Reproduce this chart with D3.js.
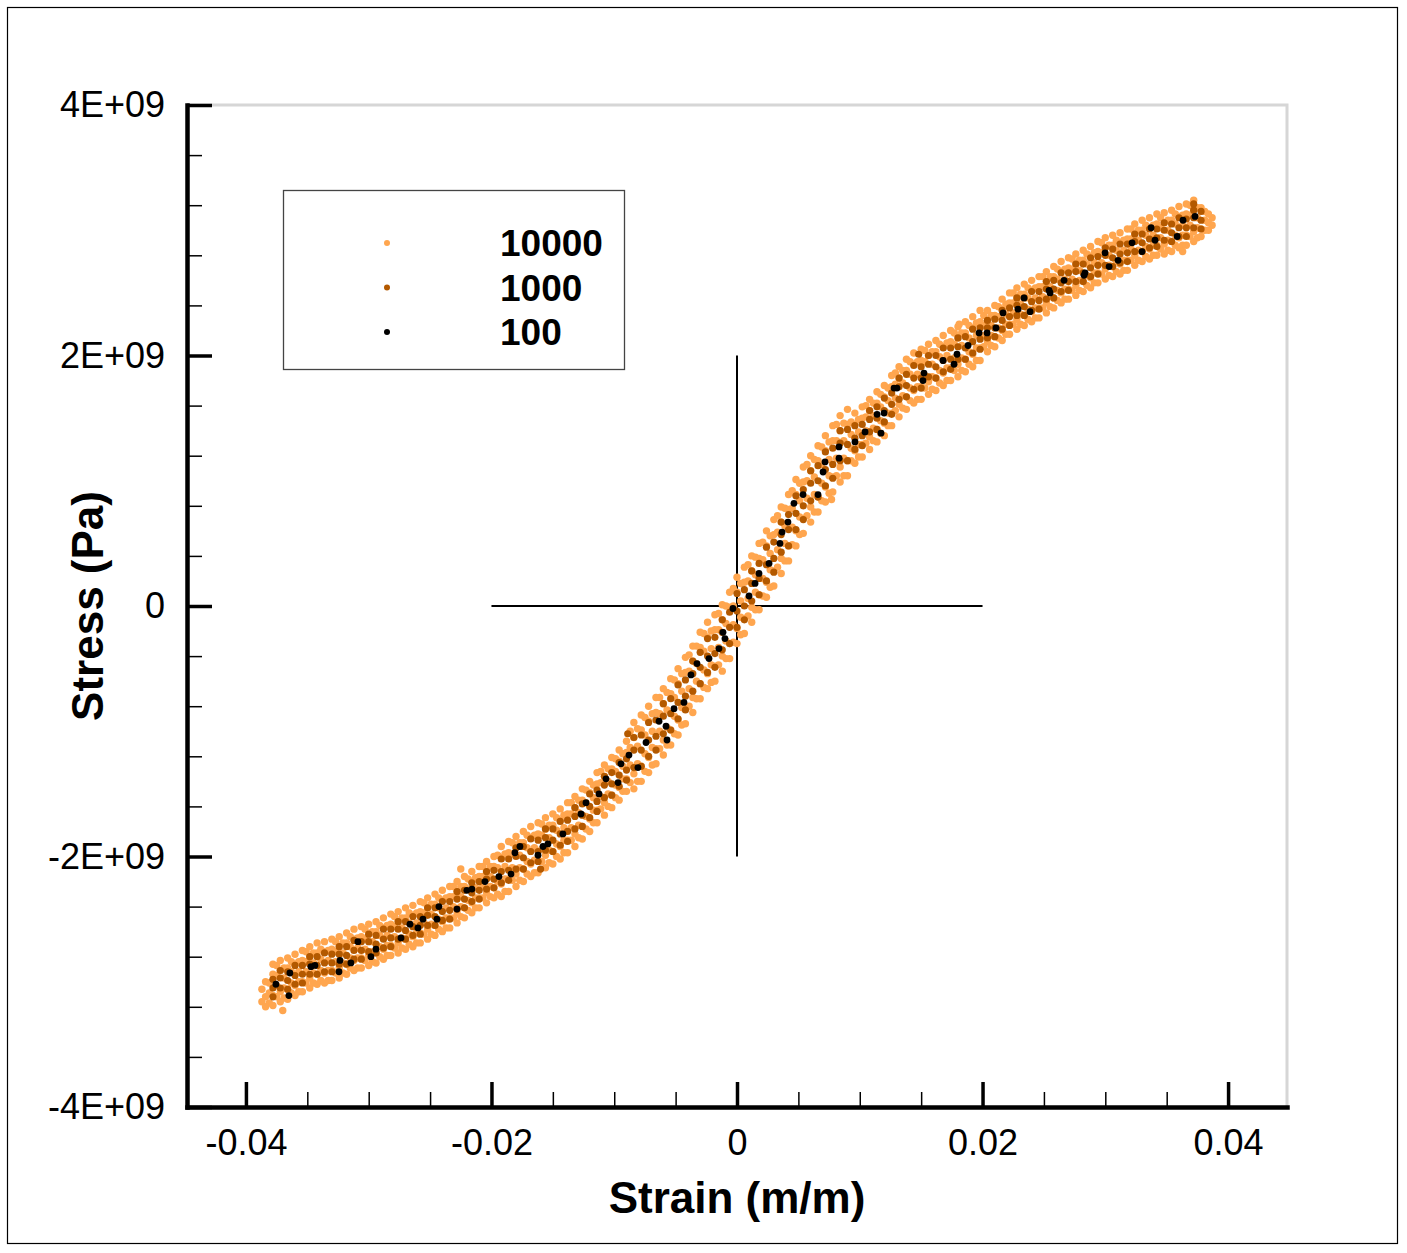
<!DOCTYPE html>
<html>
<head>
<meta charset="utf-8">
<script src="https://cdn.jsdelivr.net/npm/d3@7"></script>
<style>
body { margin: 0; background: #fff; }
text { font-family: "Liberation Sans", Arial, Helvetica, sans-serif; }
</style>
</head>
<body>
<div id="chart"></div>
<script>
// stress values in the series below are in units of 1e9 Pa
var GPA = 1e9;

var seriesNames = ["10000", "1000", "100"];
var seriesColors = ["#ffa64f", "#b35900", "#000000"];

var xTicks = [-0.04, -0.02, 0, 0.02, 0.04];
var xTickLabels = ["-0.04", "-0.02", "0", "0.02", "0.04"];
var yTicks = [-4, -2, 0, 2, 4];
var yTickLabels = ["-4E+09", "-2E+09", "0", "2E+09", "4E+09"];

// the two reference lines through the origin
var crossH = [[-0.02, 0], [0.02, 0]];
var crossV = [[0, -2], [0, 2]];

// 100 sample run: [strain, stress]
var points100 = [
  [-0.03756,-3.02],[-0.03650,-3.11],[-0.03642,-2.93],[-0.03470,-2.88],[-0.03438,-2.87],[-0.03242,-2.92],
  [-0.03234,-2.83],[-0.03145,-2.85],[-0.03088,-2.68],[-0.02982,-2.80],[-0.02941,-2.74],[-0.02737,-2.65],
  [-0.02664,-2.54],[-0.02599,-2.57],[-0.02558,-2.50],[-0.02444,-2.50],[-0.02428,-2.40],[-0.02281,-2.42],
  [-0.02200,-2.27],[-0.02159,-2.26],[-0.02053,-2.20],[-0.01939,-2.16],[-0.01841,-2.14],[-0.01809,-1.97],
  [-0.01768,-1.92],[-0.01621,-1.99],[-0.01580,-1.92],[-0.01540,-1.90],[-0.01418,-1.82],[-0.01271,-1.66],
  [-0.01230,-1.57],[-0.01124,-1.50],[-0.01067,-1.38],[-0.00969,-1.41],[-0.00945,-1.26],[-0.00880,-1.19],
  [-0.00807,-1.29],[-0.00741,-1.09],[-0.00635,-0.92],[-0.00578,-0.96],[-0.00570,-1.07],[-0.00513,-0.82],
  [-0.00432,-0.77],[-0.00375,-0.55],[-0.00326,-0.46],[-0.00228,-0.42],[-0.00147,-0.34],[-0.00114,-0.21],
  [-0.00098,-0.26],[-0.00033,-0.02],[0.00098,0.08],[0.00147,0.18],[0.00179,0.26],[0.00261,0.34],
  [0.00350,0.50],[0.00367,0.59],[0.00415,0.67],[0.00464,0.82],[0.00538,0.89],[0.00660,0.89],
  [0.00701,1.07],[0.00717,1.15],[0.00831,1.18],[0.00831,1.27],[0.00961,1.31],[0.01043,1.39],
  [0.01141,1.53],[0.01173,1.38],[0.01198,1.54],[0.01279,1.74],[0.01303,1.74],[0.01515,1.80],
  [0.01523,1.86],[0.01678,1.96],[0.01768,1.93],[0.01792,2.01],[0.01882,2.08],[0.01972,2.18],
  [0.02037,2.18],[0.02110,2.22],[0.02167,2.34],[0.02289,2.37],[0.02338,2.46],[0.02387,2.35],
  [0.02542,2.52],[0.02550,2.50],[0.02664,2.60],[0.02827,2.64],[0.02835,2.66],[0.02998,2.82],
  [0.03031,2.71],[0.03104,2.76],[0.03218,2.90],[0.03299,2.83],[0.03373,3.02],[0.03405,2.92],
  [0.03585,2.95],[0.03633,3.08],[0.03731,3.11]
];

// 1000 sample run: [strain, stress, stress, ...] (several readings per strain)
var cols1000 = [
  [-.0378,-3.12,-3.05,-2.98],[-.0372,-3.05,-2.97,-2.91],[-.0366,-3.06,-2.99,-2.92],[-.0360,-3.02,-2.95,-2.87],
  [-.0354,-3.01,-2.94,-2.87],[-.0348,-2.94,-2.86,-2.80],[-.0342,-2.94,-2.87,-2.80],[-.0336,-2.92,-2.85,-2.77],
  [-.0330,-2.92,-2.85,-2.78],[-.0324,-2.86,-2.78,-2.72],[-.0318,-2.86,-2.79,-2.72],[-.0312,-2.82,-2.75,-2.67],
  [-.0306,-2.82,-2.75,-2.68],[-.0300,-2.76,-2.68,-2.62],[-.0294,-2.77,-2.70,-2.63],[-.0288,-2.73,-2.66,-2.58],
  [-.0282,-2.72,-2.65,-2.58],[-.0276,-2.66,-2.58,-2.52],[-.0270,-2.66,-2.59,-2.52],[-.0264,-2.63,-2.56,-2.48],
  [-.0258,-2.62,-2.55,-2.48],[-.0252,-2.55,-2.47,-2.41],[-.0246,-2.55,-2.48,-2.41],[-.0240,-2.51,-2.44,-2.36],
  [-.0234,-2.50,-2.43,-2.36],[-.0228,-2.42,-2.34,-2.28],[-.0222,-2.41,-2.34,-2.27],[-.0216,-2.36,-2.29,-2.21],
  [-.0210,-2.34,-2.27,-2.20],[-.0204,-2.26,-2.18,-2.12],[-.0198,-2.25,-2.18,-2.11],[-.0192,-2.21,-2.12,-2.02],
  [-.0186,-2.19,-2.11,-2.02],[-.0180,-2.10,-2.00,-1.93],[-.0174,-2.10,-2.01,-1.92],[-.0168,-2.05,-1.96,-1.86],
  [-.0162,-2.04,-1.96,-1.87],[-.0156,-1.95,-1.85,-1.78],[-.0150,-1.96,-1.87,-1.78],[-.0144,-1.91,-1.82,-1.72],
  [-.0138,-1.88,-1.80,-1.71],[-.0132,-1.78,-1.68,-1.61],[-.0126,-1.76,-1.67,-1.58],[-.0120,-1.69,-1.60,-1.50],
  [-.0114,-1.64,-1.56,-1.47],[-.0108,-1.53,-1.43,-1.36],[-.0102,-1.51,-1.42,-1.33],[-.0096,-1.44,-1.35,-1.25],
  [-.0090,-1.39,-1.31,-1.22],[-.0084,-1.29,-1.15,-1.05],[-.0078,-1.28,-1.15,-1.03],[-.0072,-1.20,-1.07,-0.93],
  [-.0066,-1.15,-1.04,-0.91],[-.0060,-1.02,-0.88,-0.78],[-.0054,-0.99,-0.86,-0.74],[-.0048,-0.90,-0.77,-0.63],
  [-.0042,-0.83,-0.72,-0.59],[-.0036,-0.68,-0.54,-0.44],[-.0030,-0.62,-0.49,-0.37],[-.0024,-0.53,-0.40,-0.26],
  [-.0018,-0.49,-0.38,-0.25],[-.0012,-0.35,-0.21,-0.11],[-.0006,-0.30,-0.17,-0.05],[.0000,-0.17,-0.04,0.10],
  [.0006,-0.11,0.00,0.13],[.0012,0.04,0.18,0.28],[.0018,0.09,0.22,0.34],[.0024,0.20,0.33,0.47],
  [.0030,0.27,0.38,0.51],[.0036,0.43,0.57,0.67],[.0042,0.48,0.61,0.73],[.0048,0.61,0.74,0.88],
  [.0054,0.69,0.80,0.93],[.0060,0.84,0.98,1.08],[.0066,0.87,1.00,1.12],[.0072,0.96,1.09,1.23],
  [.0078,1.02,1.13,1.26],[.0084,1.16,1.30,1.40],[.0090,1.16,1.29,1.41],[.0096,1.25,1.34,1.44],
  [.0102,1.28,1.36,1.45],[.0108,1.39,1.49,1.56],[.0114,1.41,1.50,1.59],[.0120,1.47,1.56,1.66],
  [.0126,1.53,1.61,1.70],[.0132,1.65,1.75,1.82],[.0138,1.67,1.76,1.85],[.0144,1.73,1.82,1.92],
  [.0150,1.74,1.82,1.91],[.0156,1.83,1.93,2.00],[.0162,1.82,1.91,2.00],[.0168,1.87,1.96,2.06],
  [.0174,1.89,1.97,2.06],[.0180,1.97,2.07,2.14],[.0186,1.97,2.06,2.15],[.0192,2.02,2.11,2.21],
  [.0198,2.05,2.13,2.22],[.0204,2.14,2.22,2.28],[.0210,2.15,2.22,2.29],[.0216,2.21,2.28,2.36],
  [.0222,2.24,2.31,2.38],[.0228,2.32,2.40,2.46],[.0234,2.32,2.39,2.46],[.0240,2.36,2.43,2.51],
  [.0246,2.37,2.44,2.51],[.0252,2.45,2.53,2.59],[.0258,2.46,2.53,2.60],[.0264,2.51,2.58,2.66],
  [.0270,2.52,2.59,2.66],[.0276,2.59,2.67,2.73],[.0282,2.59,2.66,2.73],[.0288,2.63,2.70,2.78],
  [.0294,2.65,2.72,2.79],[.0300,2.72,2.80,2.86],[.0306,2.71,2.78,2.85],[.0312,2.74,2.81,2.89],
  [.0318,2.75,2.82,2.89],[.0324,2.83,2.91,2.97],[.0330,2.83,2.90,2.97],[.0336,2.86,2.93,3.01],
  [.0342,2.87,2.94,3.01],[.0348,2.92,3.00,3.06],[.0354,2.91,2.98,3.05],[.0360,2.95,3.02,3.10],
  [.0366,2.95,3.02,3.09],[.0372,3.02,3.10,3.16,3.21],[.0378,3.01,3.08,3.15],
  [-.0089,-1.02],[.0148,2.01],[-.0160,-2.10]
];

// 10000 sample run: [strain, stress, stress, ...]
var cols10000 = [
  [-.0387,-3.16,-3.06],[-.0381,-3.17,-3.09,-3.01],[-.0375,-3.12,-3.03,-2.95,-2.87],[-.0369,-3.13,-3.05,-2.97,-2.89],
  [-.0363,-3.09,-3.01,-2.92,-2.84],[-.0357,-3.08,-3.00,-2.92,-2.84],[-.0351,-3.01,-2.92,-2.84,-2.76],[-.0345,-3.01,-2.93,-2.85,-2.77],
  [-.0339,-2.99,-2.91,-2.82,-2.74],[-.0333,-2.99,-2.91,-2.83,-2.75],[-.0327,-2.93,-2.84,-2.76,-2.68],[-.0321,-2.93,-2.85,-2.77,-2.69],
  [-.0315,-2.89,-2.81,-2.72,-2.64],[-.0309,-2.89,-2.81,-2.73,-2.65],[-.0303,-2.83,-2.74,-2.66,-2.58],[-.0297,-2.84,-2.76,-2.68,-2.60],
  [-.0291,-2.80,-2.72,-2.63,-2.55],[-.0285,-2.79,-2.71,-2.63,-2.55],[-.0279,-2.73,-2.64,-2.56,-2.48],[-.0273,-2.73,-2.65,-2.57,-2.49],
  [-.0267,-2.70,-2.62,-2.53,-2.45],[-.0261,-2.69,-2.61,-2.53,-2.45],[-.0255,-2.62,-2.53,-2.45,-2.37],[-.0249,-2.62,-2.54,-2.46,-2.38],
  [-.0243,-2.58,-2.50,-2.41,-2.33],[-.0237,-2.57,-2.49,-2.41,-2.33],[-.0231,-2.49,-2.40,-2.32,-2.24],[-.0225,-2.48,-2.40,-2.32,-2.24],
  [-.0219,-2.43,-2.35,-2.26,-2.18],[-.0213,-2.41,-2.33,-2.25,-2.17],[-.0207,-2.33,-2.24,-2.16,-2.08],[-.0201,-2.32,-2.24,-2.16,-2.08],
  [-.0195,-2.30,-2.20,-2.09,-1.99],[-.0189,-2.28,-2.18,-2.08,-1.98],[-.0183,-2.19,-2.09,-1.98,-1.89],[-.0177,-2.19,-2.09,-1.99,-1.89],
  [-.0171,-2.14,-2.04,-1.93,-1.83],[-.0165,-2.13,-2.03,-1.93,-1.83],[-.0159,-2.04,-1.94,-1.83,-1.74],[-.0153,-2.05,-1.95,-1.85,-1.75],
  [-.0147,-2.00,-1.90,-1.79,-1.69],[-.0141,-1.97,-1.87,-1.77,-1.67],[-.0135,-1.87,-1.77,-1.66,-1.57],[-.0129,-1.85,-1.75,-1.65,-1.55],
  [-.0123,-1.78,-1.68,-1.57,-1.47],[-.0117,-1.73,-1.63,-1.53,-1.43],[-.0111,-1.62,-1.52,-1.41,-1.32],[-.0105,-1.60,-1.50,-1.40,-1.30],
  [-.0099,-1.53,-1.43,-1.32,-1.22],[-.0093,-1.48,-1.38,-1.28,-1.18],[-.0087,-1.41,-1.27,-1.13,-1.00],[-.0081,-1.40,-1.26,-1.12,-0.98],
  [-.0075,-1.32,-1.18,-1.03,-0.89],[-.0069,-1.27,-1.13,-1.00,-0.86],[-.0063,-1.14,-1.00,-0.86,-0.73],[-.0057,-1.11,-0.97,-0.83,-0.69],
  [-.0051,-1.02,-0.88,-0.73,-0.59],[-.0045,-0.95,-0.81,-0.68,-0.54],[-.0039,-0.80,-0.66,-0.52,-0.39],[-.0033,-0.74,-0.60,-0.46,-0.32],
  [-.0027,-0.65,-0.51,-0.36,-0.22],[-.0021,-0.61,-0.47,-0.34,-0.20],[-.0015,-0.47,-0.33,-0.19,-0.06],[-.0009,-0.42,-0.28,-0.14,0.00],
  [-.0003,-0.29,-0.15,0.00,0.14],[.0003,-0.23,-0.09,0.04,0.18],[.0009,-0.08,0.06,0.20,0.33],[.0015,-0.03,0.11,0.25,0.39],
  [.0021,0.08,0.22,0.37,0.51],[.0027,0.15,0.29,0.42,0.56],[.0033,0.31,0.45,0.59,0.72],[.0039,0.36,0.50,0.64,0.78],
  [.0045,0.49,0.63,0.78,0.92],[.0051,0.57,0.71,0.84,0.98],[.0057,0.72,0.86,1.00,1.13],[.0063,0.75,0.89,1.03,1.17],
  [.0069,0.84,0.98,1.13,1.27],[.0075,0.90,1.04,1.17,1.31],[.0081,1.04,1.18,1.32,1.45],[.0087,1.04,1.18,1.32,1.46],
  [.0093,1.16,1.26,1.37,1.47],[.0099,1.19,1.29,1.39,1.49],[.0105,1.30,1.40,1.51,1.60],[.0111,1.32,1.42,1.52,1.62],
  [.0117,1.38,1.48,1.59,1.69],[.0123,1.44,1.54,1.64,1.74],[.0129,1.56,1.66,1.77,1.86],[.0135,1.58,1.68,1.78,1.88],
  [.0141,1.64,1.74,1.85,1.95],[.0147,1.65,1.75,1.85,1.95],[.0153,1.74,1.84,1.95,2.04],[.0159,1.73,1.83,1.93,2.03],
  [.0165,1.78,1.88,1.99,2.09],[.0171,1.80,1.90,2.00,2.10],[.0177,1.88,1.98,2.09,2.18],[.0183,1.88,1.98,2.08,2.18],
  [.0189,1.93,2.03,2.14,2.24],[.0195,1.96,2.06,2.16,2.26],[.0201,2.07,2.16,2.24,2.32],[.0207,2.08,2.16,2.24,2.32],
  [.0213,2.14,2.22,2.31,2.39],[.0219,2.17,2.25,2.33,2.41],[.0225,2.25,2.34,2.42,2.50],[.0231,2.25,2.33,2.41,2.49],
  [.0237,2.29,2.37,2.46,2.54],[.0243,2.30,2.38,2.46,2.54],[.0249,2.38,2.47,2.55,2.63],[.0255,2.39,2.47,2.55,2.63],
  [.0261,2.44,2.52,2.61,2.69],[.0267,2.45,2.53,2.61,2.69],[.0273,2.52,2.61,2.69,2.77],[.0279,2.52,2.60,2.68,2.76],
  [.0285,2.56,2.64,2.73,2.81],[.0291,2.58,2.66,2.74,2.82],[.0297,2.65,2.74,2.82,2.90],[.0303,2.64,2.72,2.80,2.88],
  [.0309,2.67,2.75,2.84,2.92],[.0315,2.68,2.76,2.84,2.92],[.0321,2.76,2.85,2.93,3.01],[.0327,2.76,2.84,2.92,3.00],
  [.0333,2.79,2.87,2.96,3.04],[.0339,2.80,2.88,2.96,3.04],[.0345,2.85,2.94,3.02,3.10],[.0351,2.84,2.92,3.00,3.08],
  [.0357,2.88,2.96,3.05,3.13],[.0363,2.88,2.96,3.04,3.12],[.0369,2.95,3.04,3.12,3.20],[.0375,2.94,3.02,3.10,3.18],
  [.0381,3.00,3.08,3.15],[.0387,3.04,3.10],
  // readings between the columns above, mostly toward the edges of the band
  [-.0384,-3.20,-3.12,-3.00],[-.0378,-3.19,-3.11,-2.94,-2.86],[-.0372,-3.16,-3.08,-2.91,-2.83],[-.0366,-3.14,-3.06,-2.89,-2.81],
  [-.0360,-3.11,-3.03,-2.86,-2.78],[-.0354,-3.08,-3.00,-2.83,-2.75],[-.0348,-3.05,-2.97,-2.80,-2.72],[-.0342,-3.02,-2.94,-2.77,-2.69],
  [-.0336,-3.01,-2.93,-2.76,-2.68],[-.0330,-2.99,-2.91,-2.74,-2.66],[-.0324,-2.97,-2.89,-2.72,-2.64],[-.0318,-2.94,-2.86,-2.69,-2.61],
  [-.0312,-2.91,-2.83,-2.66,-2.58],[-.0306,-2.89,-2.81,-2.64,-2.56],[-.0300,-2.87,-2.79,-2.62,-2.54],[-.0294,-2.85,-2.77,-2.60,-2.52],
  [-.0288,-2.82,-2.74,-2.57,-2.49],[-.0282,-2.79,-2.71,-2.54,-2.46],[-.0276,-2.77,-2.69,-2.52,-2.44],[-.0270,-2.74,-2.66,-2.49,-2.41],
  [-.0264,-2.72,-2.64,-2.47,-2.39],[-.0258,-2.69,-2.61,-2.44,-2.36],[-.0252,-2.66,-2.58,-2.41,-2.33],[-.0246,-2.63,-2.55,-2.38,-2.30],
  [-.0240,-2.60,-2.52,-2.35,-2.27],[-.0234,-2.57,-2.49,-2.32,-2.24],[-.0228,-2.53,-2.45,-2.28,-2.20],[-.0222,-2.49,-2.41,-2.24,-2.16],
  [-.0216,-2.45,-2.37,-2.20,-2.12],[-.0210,-2.41,-2.33,-2.16,-2.08],[-.0204,-2.37,-2.29,-2.12,-2.04],[-.0198,-2.33,-2.25,-2.08,-2.00],
  [-.0192,-2.32,-2.22,-2.01,-1.92],[-.0186,-2.28,-2.18,-1.97,-1.88],[-.0180,-2.24,-2.14,-1.93,-1.84],[-.0174,-2.20,-2.10,-1.89,-1.80],
  [-.0168,-2.16,-2.06,-1.85,-1.76],[-.0162,-2.13,-2.03,-1.82,-1.73],[-.0156,-2.09,-1.99,-1.78,-1.69],[-.0150,-2.06,-1.96,-1.75,-1.66],
  [-.0144,-2.02,-1.92,-1.71,-1.62],[-.0138,-1.97,-1.87,-1.66,-1.57],[-.0132,-1.92,-1.82,-1.61,-1.52],[-.0126,-1.86,-1.76,-1.55,-1.46],
  [-.0120,-1.80,-1.70,-1.49,-1.40],[-.0114,-1.73,-1.63,-1.42,-1.33],[-.0108,-1.67,-1.57,-1.36,-1.27],[-.0102,-1.61,-1.51,-1.30,-1.21],
  [-.0096,-1.55,-1.45,-1.24,-1.15],[-.0090,-1.48,-1.38,-1.17,-1.08],[-.0084,-1.46,-1.34,-1.05,-0.93],[-.0078,-1.40,-1.28,-0.99,-0.87],
  [-.0072,-1.33,-1.21,-0.92,-0.80],[-.0066,-1.26,-1.14,-0.85,-0.73],[-.0060,-1.19,-1.07,-0.78,-0.66],[-.0054,-1.11,-0.99,-0.70,-0.58],
  [-.0048,-1.03,-0.91,-0.62,-0.50],[-.0042,-0.94,-0.82,-0.53,-0.41],[-.0036,-0.85,-0.73,-0.44,-0.32],[-.0030,-0.74,-0.62,-0.33,-0.21],
  [-.0024,-0.66,-0.54,-0.25,-0.13],[-.0018,-0.60,-0.48,-0.19,-0.07],[-.0012,-0.52,-0.40,-0.11,0.01],[-.0006,-0.42,-0.30,-0.01,0.11],
  [.0000,-0.30,-0.18,0.11,0.23],[.0006,-0.22,-0.10,0.19,0.31],[.0012,-0.13,-0.01,0.28,0.40],[.0018,-0.03,0.09,0.38,0.50],
  [.0024,0.07,0.19,0.48,0.60],[.0030,0.16,0.28,0.57,0.69],[.0036,0.26,0.38,0.67,0.79],[.0042,0.36,0.48,0.77,0.89],
  [.0048,0.48,0.60,0.89,1.01],[.0054,0.58,0.70,0.99,1.11],[.0060,0.67,0.79,1.08,1.20],[.0066,0.75,0.87,1.16,1.28],
  [.0072,0.83,0.95,1.24,1.36],[.0078,0.91,1.03,1.32,1.44],[.0084,0.99,1.11,1.40,1.52],[.0090,1.04,1.16,1.45,1.57],
  [.0096,1.14,1.24,1.45,1.54],[.0102,1.19,1.29,1.50,1.59],[.0108,1.25,1.35,1.56,1.65],[.0114,1.31,1.41,1.62,1.71],
  [.0120,1.36,1.46,1.67,1.76],[.0126,1.44,1.54,1.75,1.84],[.0132,1.51,1.61,1.82,1.91],[.0138,1.57,1.67,1.88,1.97],
  [.0144,1.62,1.72,1.93,2.02],[.0150,1.65,1.75,1.96,2.05],[.0156,1.69,1.79,2.00,2.09],[.0162,1.72,1.82,2.03,2.12],
  [.0168,1.76,1.86,2.07,2.16],[.0174,1.80,1.90,2.11,2.20],[.0180,1.83,1.93,2.14,2.23],[.0186,1.87,1.97,2.18,2.27],
  [.0192,1.91,2.01,2.22,2.31],[.0198,1.96,2.06,2.27,2.36],[.0204,2.03,2.11,2.28,2.36],[.0210,2.07,2.15,2.32,2.40],
  [.0216,2.12,2.20,2.37,2.45],[.0222,2.17,2.25,2.42,2.50],[.0228,2.21,2.29,2.46,2.54],[.0234,2.24,2.32,2.49,2.57],
  [.0240,2.27,2.35,2.52,2.60],[.0246,2.30,2.38,2.55,2.63],[.0252,2.34,2.42,2.59,2.67],[.0258,2.38,2.46,2.63,2.71],
  [.0264,2.42,2.50,2.67,2.75],[.0270,2.45,2.53,2.70,2.78],[.0276,2.48,2.56,2.73,2.81],[.0282,2.51,2.59,2.76,2.84],
  [.0288,2.54,2.62,2.79,2.87],[.0294,2.58,2.66,2.83,2.91],[.0300,2.61,2.69,2.86,2.94],[.0306,2.63,2.71,2.88,2.96],
  [.0312,2.65,2.73,2.90,2.98],[.0318,2.68,2.76,2.93,3.01],[.0324,2.72,2.80,2.97,3.05],[.0330,2.75,2.83,3.00,3.08],
  [.0336,2.77,2.85,3.02,3.10],[.0342,2.80,2.88,3.05,3.13],[.0348,2.81,2.89,3.06,3.14],[.0354,2.83,2.91,3.08,3.16],
  [.0360,2.86,2.94,3.11,3.19],[.0366,2.88,2.96,3.13,3.21],[.0372,2.91,2.99,3.16,3.24],[.0378,2.95,3.01,3.18],
  [.0384,3.00,3.06,3.13],
  [-.0370,-3.23],[-.0225,-2.10],[.0077,0.85],[.0181,2.25],[.0363,2.83]
];

// ---- layout ----
var width = 1407, height = 1253;
var plot = {left: 187, right: 1287, top: 105, bottom: 1107};
var dotRadius = [3.7, 3.6, 3.4];

function toPoints(cols) {
    var pts = [];
    cols.forEach(function(c) {
        for (var i = 1; i < c.length; i++) pts.push([c[0], c[i]]);
    });
    return pts;
}

var svg = d3.select("#chart").append("svg")
    .attr("width", width)
    .attr("height", height);

// outer frame
svg.append("rect")
    .attr("x", 7.5).attr("y", 7.5)
    .attr("width", 1390).attr("height", 1236)
    .attr("fill", "none")
    .attr("stroke", "#000")
    .attr("stroke-width", 1.2);

var x = d3.scaleLinear().domain([-0.0448, 0.0448]).range([plot.left, plot.right]);
var y = d3.scaleLinear().domain([-4 * GPA, 4 * GPA]).range([plot.bottom, plot.top]);

// light frame on top and right
svg.append("path")
    .attr("d", "M" + plot.left + "," + plot.top + "H" + plot.right + "V" + plot.bottom)
    .attr("fill", "none")
    .attr("stroke", "#d6d6d6")
    .attr("stroke-width", 3);

// minor ticks
var xMinor = d3.range(-0.04, 0.0401, 0.005);
var yMinor = d3.range(-4, 4.01, 0.4).map(function(v) { return v * GPA; });

svg.append("g")
    .attr("transform", "translate(0," + plot.bottom + ")")
    .call(d3.axisBottom(x).tickValues(xMinor).tickSize(-15).tickFormat(""))
    .call(function(g) { g.select(".domain").remove(); })
    .selectAll("line").attr("stroke-width", 1.5);

svg.append("g")
    .attr("transform", "translate(" + plot.left + ",0)")
    .call(d3.axisLeft(y).tickValues(yMinor).tickSize(-15).tickFormat(""))
    .call(function(g) { g.select(".domain").remove(); })
    .selectAll("line").attr("stroke-width", 1.5);

// major axes
var xAxisG = svg.append("g")
    .attr("transform", "translate(0," + plot.bottom + ")")
    .call(d3.axisBottom(x)
        .tickValues(xTicks)
        .tickSize(-25)
        .tickSizeOuter(0)
        .tickPadding(22)
        .tickFormat(function(d, i) { return xTickLabels[i]; }));

var yAxisG = svg.append("g")
    .attr("transform", "translate(" + plot.left + ",0)")
    .call(d3.axisLeft(y)
        .tickValues(yTicks.map(function(v) { return v * GPA; }))
        .tickSize(-25)
        .tickSizeOuter(0)
        .tickPadding(22)
        .tickFormat(function(d, i) { return yTickLabels[i]; }));

[xAxisG, yAxisG].forEach(function(g) {
    g.select(".domain").attr("stroke-width", 4.5).attr("stroke-linecap", "square");
    g.selectAll(".tick line").attr("stroke-width", 3.5);
    g.selectAll(".tick text")
        .attr("font-size", 36)
        .attr("font-family", "'Liberation Sans', Arial, sans-serif")
        .attr("fill", "#000");
});

// axis titles
svg.append("text")
    .attr("x", x(0))
    .attr("y", 1213)
    .attr("text-anchor", "middle")
    .attr("font-size", 44)
    .attr("font-weight", "bold")
    .text("Strain (m/m)");

svg.append("text")
    .attr("transform", "translate(103," + y(0) + ") rotate(-90)")
    .attr("text-anchor", "middle")
    .attr("font-size", 44)
    .attr("font-weight", "bold")
    .text("Stress (Pa)");

// reference cross
var line = d3.line()
    .x(function(d) { return x(d[0]); })
    .y(function(d) { return y(d[1] * GPA); });

[crossH, crossV].forEach(function(seg) {
    svg.append("path")
        .attr("d", line(seg))
        .attr("fill", "none")
        .attr("stroke", "#000")
        .attr("stroke-width", 2);
});

// scatter
var seriesData = [toPoints(cols10000), toPoints(cols1000), points100];

seriesData.forEach(function(pts, i) {
    svg.append("g")
        .attr("class", "series-" + seriesNames[i])
        .selectAll("circle")
        .data(pts)
        .enter()
        .append("circle")
        .attr("cx", function(d) { return x(d[0]); })
        .attr("cy", function(d) { return y(d[1] * GPA); })
        .attr("r", dotRadius[i])
        .attr("fill", seriesColors[i]);
});

// legend
var legend = svg.append("g").attr("transform", "translate(283,190)");

legend.append("rect")
    .attr("x", 0.5).attr("y", 0.5)
    .attr("width", 341).attr("height", 179)
    .attr("fill", "#fff")
    .attr("stroke", "#444")
    .attr("stroke-width", 1.3);

var rows = legend.selectAll(".row")
    .data(seriesNames)
    .enter()
    .append("g")
    .attr("class", "row")
    .attr("transform", function(d, i) { return "translate(0," + (53 + i * 44.5) + ")"; });

rows.append("circle")
    .attr("cx", 104)
    .attr("r", 3)
    .attr("fill", function(d, i) { return seriesColors[i]; });

rows.append("text")
    .attr("x", 217)
    .attr("dy", "0.36em")
    .attr("font-size", 37)
    .attr("font-weight", "bold")
    .text(function(d) { return d; });
</script>
</body>
</html>
